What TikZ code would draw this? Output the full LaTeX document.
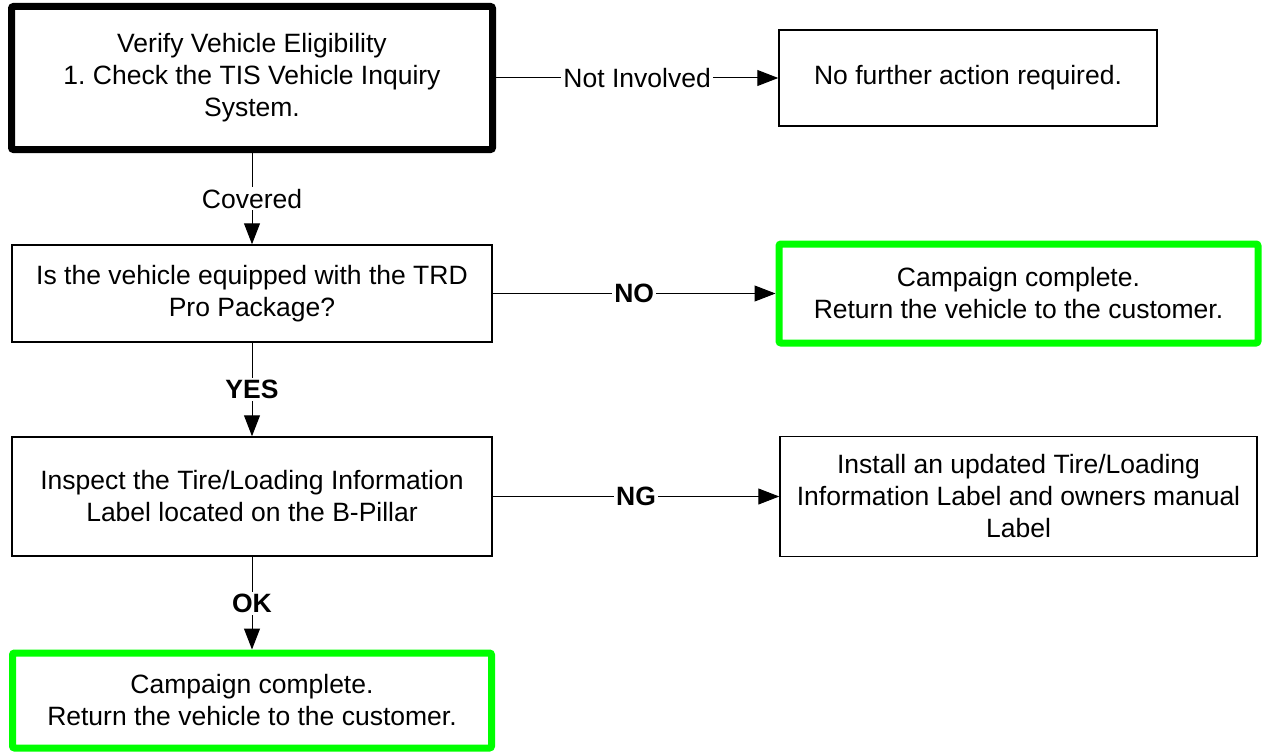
\documentclass[tikz,border=0pt]{standalone}
\usepackage{fontspec}
\setmainfont{Liberation Sans}
\usetikzlibrary{arrows.meta}
\definecolor{okgreen}{RGB}{0,255,0}
\frenchspacing
\begin{document}
\begin{tikzpicture}[x=1pt,y=-1pt,
    every node/.style={font=\fontsize{26.5}{32}\selectfont},
    stepbox/.style={draw,line width=1.5pt,align=center,inner sep=4pt},
    startbox/.style={stepbox,line width=7pt,rounded corners=2pt},
    donebox/.style={stepbox,draw=okgreen,line width=7pt,rounded corners=2pt},
    flow/.style={line width=1pt,-{Triangle[length=21pt,width=16pt]}},
    lbl/.style={fill=white,inner sep=2pt},
    blbl/.style={lbl,font=\fontsize{26.5}{32}\selectfont\bfseries}]
  \useasboundingbox (0,0) rectangle (1262,752);
  \node[startbox,minimum width=481pt,minimum height=143pt] (check) at (252,78)
    {Verify Vehicle Eligibility\\1. Check the TIS Vehicle Inquiry\\System.};
  \node[stepbox,minimum width=378pt,minimum height=96pt] (none) at (968,78)
    {No further action required.};
  \node[stepbox,minimum width=480pt,minimum height=97pt] (trd) at (252,293.5)
    {Is the vehicle equipped with the TRD\\Pro Package?};
  \node[donebox,minimum width=479pt,minimum height=99pt] (doner) at (1018.5,293.5)
    {Campaign complete.\\Return the vehicle to the customer.};
  \node[stepbox,minimum width=480pt,minimum height=119pt] (inspect) at (252,496.5)
    {Inspect the Tire/Loading Information\\Label located on the B-Pillar};
  \node[stepbox,minimum width=477pt,minimum height=120pt] (install) at (1018.5,496.5)
    {Install an updated Tire/Loading\\Information Label and owners manual\\Label};
  \node[donebox,minimum width=479pt,minimum height=95pt] (doneb) at (252,700.5)
    {Campaign complete.\\Return the vehicle to the customer.};
  \draw[flow] (check) -- node[lbl] {Not Involved} (none);
  \draw[flow] (check) -- node[lbl] {Covered} (trd);
  \draw[flow] (trd) -- node[blbl] {NO} (doner);
  \draw[flow] (trd) -- node[blbl] {YES} (inspect);
  \draw[flow] (inspect) -- node[blbl] {NG} (install);
  \draw[flow] (inspect) -- node[blbl] {OK} (doneb);
\end{tikzpicture}
\end{document}
